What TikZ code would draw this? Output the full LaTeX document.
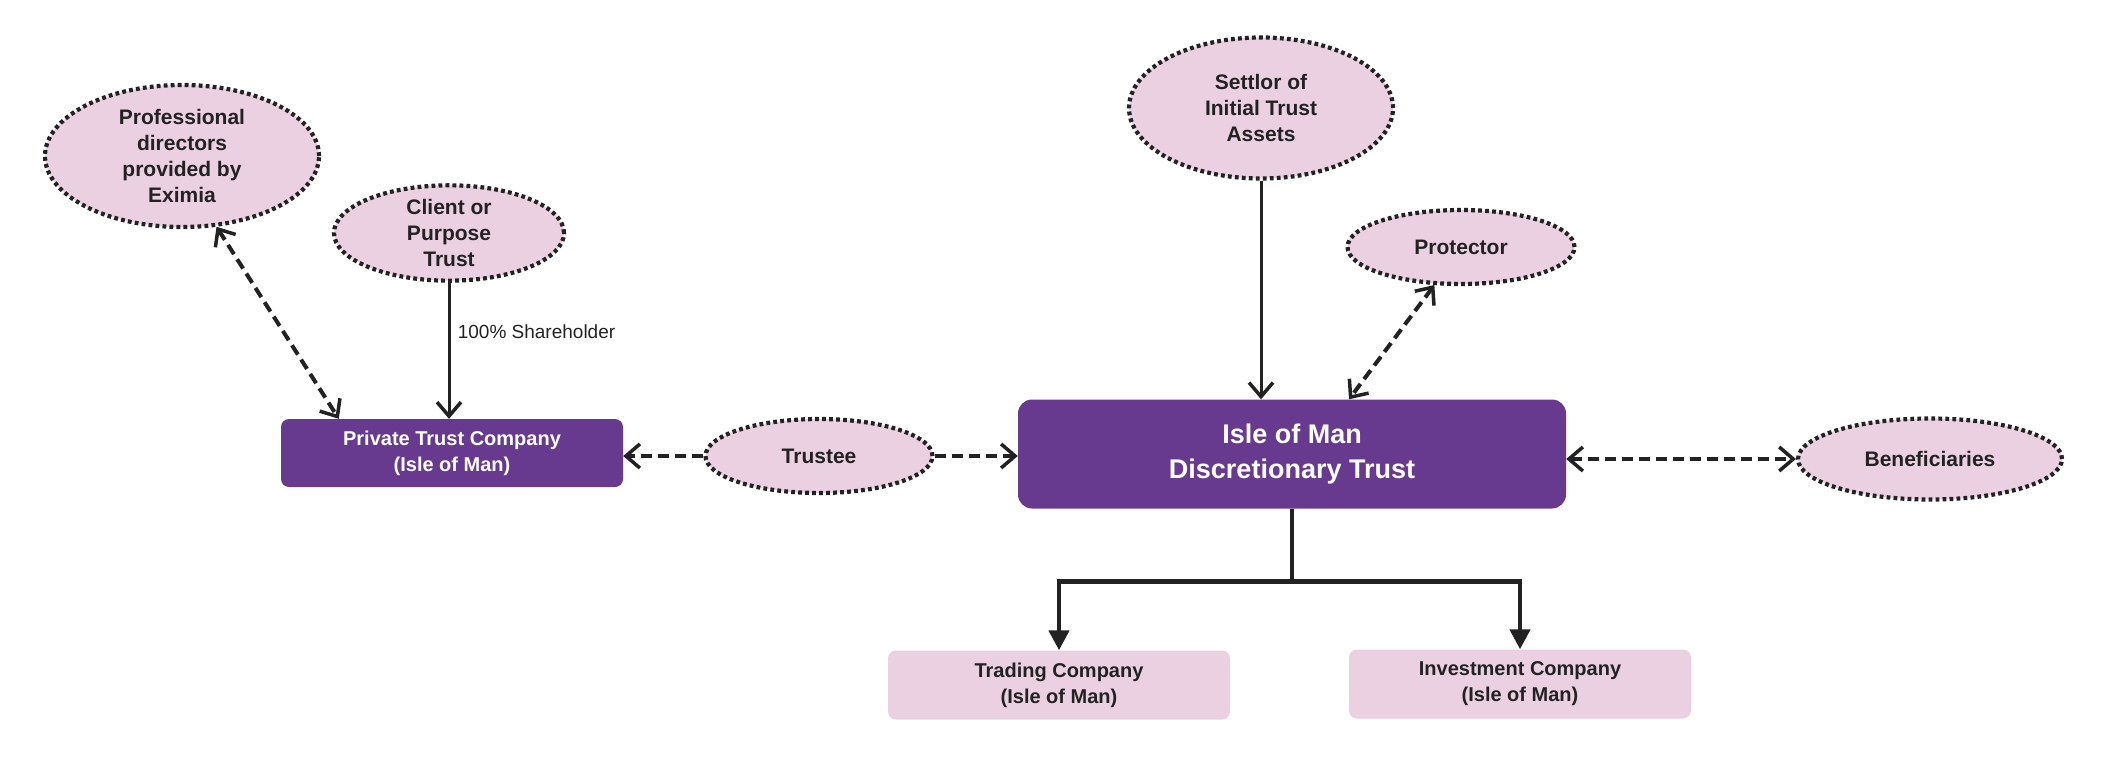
\documentclass[tikz,border=0pt]{standalone}
\usepackage{fontspec}
\setmainfont{Liberation Sans}
\usetikzlibrary{shapes.geometric,arrows.meta,calc}
\definecolor{tpurple}{HTML}{673A8F}
\definecolor{tpink}{HTML}{EBD0E2}
\definecolor{tink}{HTML}{222222}
\tikzset{
  oval/.style={ellipse, draw=tink, fill=tpink, line width=4.2pt,
    dash pattern=on 3.8pt off 3.2pt, inner sep=0pt, align=center,
    text=tink, font=\fontsize{21}{26}\selectfont\bfseries},
  mainbox/.style={rectangle, fill=tpurple, text=white, align=center, inner sep=0pt,
    font=\fontsize{20}{26}\selectfont\bfseries},
  subbox/.style={rectangle, fill=tpink, text=tink, align=center, inner sep=0pt,
    rounded corners=8pt, minimum width=342pt, minimum height=69pt,
    font=\fontsize{20}{26}\selectfont\bfseries},
  dashlink/.style={line width=4pt, draw=tink, dash pattern=on 11pt off 6pt},
  barb/.tip={Straight Barb[length=14pt,width=24pt,line width=3.5pt]},
  solidlink/.style={line width=3pt, draw=tink},
  branch/.style={line width=4.5pt, draw=tink, -{Triangle[length=20pt,width=20pt]}},
}
\begin{document}
\begin{tikzpicture}[x=1pt,y=-1pt]
\path[use as bounding box] (0,0) rectangle (2120,784);

% nodes
\node[oval, minimum width=274pt, minimum height=142pt] (prof) at (182,156)
  {Professional\\directors\\provided by\\Eximia};
\node[oval, minimum width=230pt, minimum height=92pt] (client) at (449,233)
  {Client or\\Purpose\\Trust};
\node[mainbox, rounded corners=8pt, minimum width=342pt, minimum height=68pt] (ptc) at (452,453)
  {Private Trust Company\\(Isle of Man)};
\node[oval, minimum width=227pt, minimum height=74pt] (trustee) at (819,456) {Trustee};
\node[mainbox, rounded corners=14pt, minimum width=548pt, minimum height=109pt,
  font=\fontsize{27}{35}\selectfont\bfseries] (trust) at (1292,454)
  {Isle of Man\\Discretionary Trust};
\node[oval, minimum width=264pt, minimum height=141pt] (settlor) at (1261,108)
  {Settlor of\\Initial Trust\\Assets};
\node[oval, minimum width=227pt, minimum height=74pt] (protector) at (1461,247) {Protector};
\node[oval, minimum width=264pt, minimum height=81pt] (ben) at (1930,459) {Beneficiaries};
\node[subbox] (trading) at (1059,685) {Trading Company\\(Isle of Man)};
\node[subbox] (invest) at (1520,684) {Investment Company\\(Isle of Man)};

% connectors
\draw[dashlink, barb-barb] (prof.-64) -- ($(ptc.north west)+(58,0)$);
\draw[solidlink, -barb] (client.south) -- (client.south |- ptc.north)
  node[pos=0.36, right=4pt, text=tink, font=\fontsize{19}{22}\selectfont] (share) {100\% Shareholder};
\draw[dashlink, -barb] (trustee.west) -- (trustee.west -| ptc.east);
\draw[dashlink, -barb] (trustee.east) -- (trustee.east -| trust.west);
\draw[solidlink, -barb] (settlor.south) -- (settlor.south |- trust.north);
\draw[dashlink, barb-barb] (protector.-125) -- ($(trust.north)+(57,0)$);
\draw[dashlink, barb-barb] (ben.west -| trust.east) -- (ben.west);
\coordinate (split) at ($(trust.south)+(0,73)$);
\draw[line width=4.5pt, draw=tink] (trust.south) -- (split);
\draw[branch] (split) -| (trading.north);
\draw[branch] (split) -| (invest.north);
\end{tikzpicture}
\end{document}
